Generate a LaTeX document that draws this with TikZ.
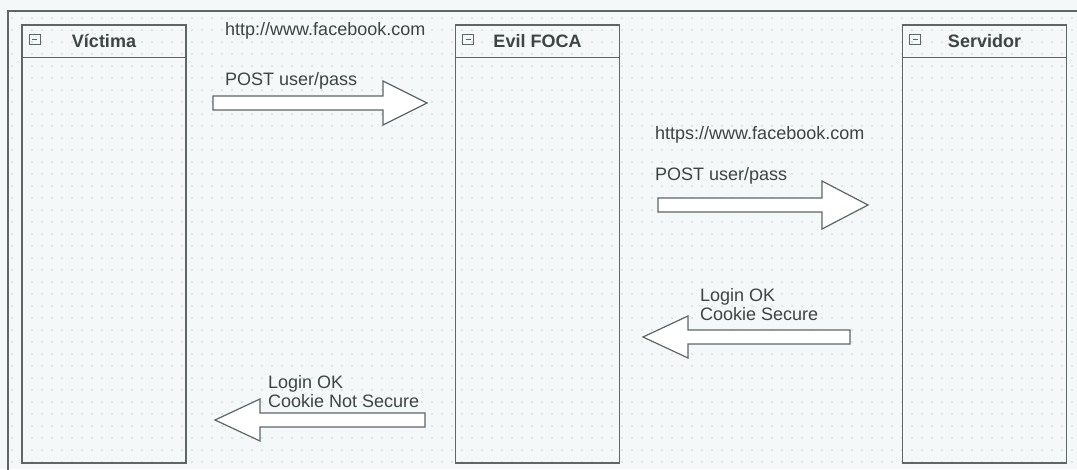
\documentclass[tikz,border=0pt]{standalone}
\usepackage{fontspec}
\setmainfont{Liberation Sans}
\usetikzlibrary{calc}
\definecolor{linea}{HTML}{5E6666}
\definecolor{texto}{HTML}{3E4444}
\definecolor{fondo}{HTML}{F4F8F8}
\definecolor{punto}{HTML}{C9D2D2}

\begin{document}
\begin{tikzpicture}[
        x=1pt, y=-1pt,
        caja/.style={rectangle, draw=linea, line width=1.4pt, minimum width=164pt, minimum height=438pt, inner sep=0pt},
        titulo/.style={font=\fontsize{18}{21}\selectfont\bfseries, text=texto},
        etiqueta/.style={font=\fontsize{18}{19}\selectfont, text=texto, inner sep=0pt, align=left},
        flecha/.style={draw=linea, line width=1.2pt, fill=white, line join=miter}
    ]
        \useasboundingbox (0,0) rectangle (1077,469);
        \fill[fondo] (0,0) rectangle (1077,469);

        % Rejilla de puntos
        \foreach \i in {0,...,106}
            \foreach \j in {0,...,38}
                \fill[punto] (12+\i*10, 18+\j*12) circle (0.8);

        % Marco exterior
        \draw[linea, line width=2pt] (8,475) -- (8,11) -- (1082,11);

        % Víctima
        \node[caja] (victima) at (104,244) {};
        \draw[linea, line width=1.2pt] ($(victima.north west)+(0,33)$) -- ($(victima.north east)+(0,33)$);
        \draw[linea, line width=1pt] ($(victima.north west)+(8,10)$) rectangle ++(11,10);
        \draw[linea, line width=1.2pt] ($(victima.north west)+(11,15)$) -- ++(5,0);
        \node[titulo] (tvictima) at ($(victima.north)+(0,16.5)$) {Víctima};

        % Evil FOCA
        \node[caja] (evilfoca) at (537.5,244) {};
        \draw[linea, line width=1.2pt] ($(evilfoca.north west)+(0,33)$) -- ($(evilfoca.north east)+(0,33)$);
        \draw[linea, line width=1pt] ($(evilfoca.north west)+(8,10)$) rectangle ++(11,10);
        \draw[linea, line width=1.2pt] ($(evilfoca.north west)+(11,15)$) -- ++(5,0);
        \node[titulo] (tevilfoca) at ($(evilfoca.north)+(0,16.5)$) {Evil FOCA};

        % Servidor
        \node[caja] (servidor) at (984.5,244) {};
        \draw[linea, line width=1.2pt] ($(servidor.north west)+(0,33)$) -- ($(servidor.north east)+(0,33)$);
        \draw[linea, line width=1pt] ($(servidor.north west)+(8,10)$) rectangle ++(11,10);
        \draw[linea, line width=1.2pt] ($(servidor.north west)+(11,15)$) -- ++(5,0);
        \node[titulo] (tservidor) at ($(servidor.north)+(0,16.5)$) {Servidor};

        % Víctima -> Evil FOCA
        \node[etiqueta, anchor=west] (url1) at (225,31) {http://www.facebook.com};
        \node[etiqueta, anchor=west] (post1) at (225,81) {POST user/pass};
        \draw[flecha] (213,96) -- (383,96) -- (383,81) -- (427,103) -- (383,125) -- (383,110) -- (213,110) -- cycle;

        % Evil FOCA -> Servidor
        \node[etiqueta, anchor=west] (url2) at (655,134.5) {https://www.facebook.com};
        \node[etiqueta, anchor=west] (post2) at (655,175.5) {POST user/pass};
        \draw[flecha] (658,198) -- (822,198) -- (822,181) -- (868,205) -- (822,229) -- (822,212) -- (658,212) -- cycle;

        % Servidor -> Evil FOCA
        \node[etiqueta, anchor=north west] (login2) at (700,288) {Login OK\\Cookie Secure};
        \draw[flecha] (850,330) -- (688,330) -- (688,316) -- (643,337) -- (688,358) -- (688,344) -- (850,344) -- cycle;

        % Evil FOCA -> Víctima
        \node[etiqueta, anchor=north west] (login1) at (268,375) {Login OK\\Cookie Not Secure};
        \draw[flecha] (425,413) -- (260,413) -- (260,399) -- (215,420) -- (260,441) -- (260,427) -- (425,427) -- cycle;

    \end{tikzpicture}
\end{document}
